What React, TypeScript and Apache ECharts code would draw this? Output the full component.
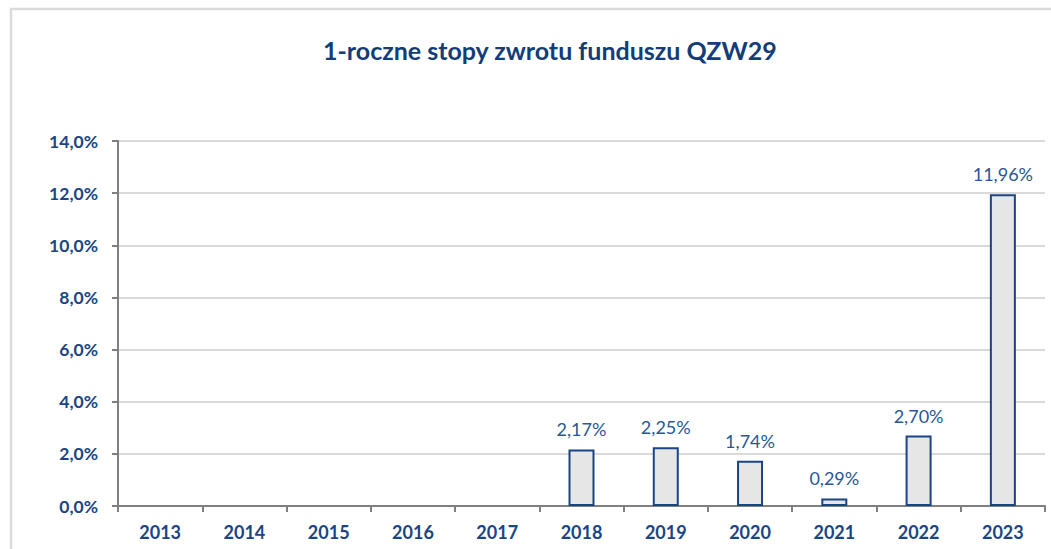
import React, { useEffect, useRef } from "react";
import * as echarts from "echarts";

const title = "1-roczne stopy zwrotu funduszu QZW29";
const years = ["2013", "2014", "2015", "2016", "2017", "2018", "2019", "2020", "2021", "2022", "2023"];
const returns: (number | null)[] = [null, null, null, null, null, 2.17, 2.25, 1.74, 0.29, 2.7, 11.96];
const yMin = 0;
const yMax = 14;
const yStep = 2;

const NAVY = "#1a4584";
const FONT = "Lato, 'DejaVu Sans', sans-serif";

export default function App() {
  const ref = useRef<HTMLDivElement>(null);
  useEffect(() => {
    if (!ref.current) return;
    const chart = echarts.init(ref.current, null, { renderer: "svg" });
    chart.setOption({
      animation: false,
      backgroundColor: "#ffffff",
      title: {
        text: title,
        left: 318,
        top: 32,
        textStyle: { color: "#133d78", fontSize: 25, fontWeight: "bold", fontFamily: FONT },
      },
      graphic: [
        {
          type: "rect",
          shape: { x: 11, y: 9, width: 1100, height: 600 },
          style: { fill: "none", stroke: "#dadada", lineWidth: 2.5 },
          silent: true,
          z: -1,
        },
      ],
      grid: { left: 118, right: 6, top: 141, bottom: 43, containLabel: false },
      xAxis: {
        type: "category",
        data: years,
        axisLine: { lineStyle: { color: "#808080", width: 2 } },
        axisTick: { show: true, length: 6, lineStyle: { color: "#808080", width: 2 } },
        axisLabel: { color: NAVY, fontSize: 18, fontWeight: "bold", fontFamily: FONT, margin: 17 },
      },
      yAxis: {
        type: "value",
        min: yMin,
        max: yMax,
        interval: yStep,
        axisLine: { show: true, lineStyle: { color: "#808080", width: 2 } },
        axisTick: { show: true, length: 6, lineStyle: { color: "#808080", width: 2 } },
        splitLine: { lineStyle: { color: "#d9d9d9", width: 2 } },
        axisLabel: {
          color: NAVY,
          fontSize: 17.5,
          fontWeight: "bold",
          fontFamily: FONT,
          margin: 20,
          formatter: (v: number) => v.toFixed(1).replace(".", ",") + "%",
        },
      },
      series: [
        {
          type: "bar",
          data: returns,
          barWidth: 26,
          itemStyle: { color: "#e6e6e6", borderColor: "#1a4584", borderWidth: 2 },
          label: {
            show: true,
            position: "top",
            distance: 11,
            color: "#2a5796",
            fontSize: 18,
            fontFamily: FONT,
            formatter: (p: any) => (p.value == null ? "" : Number(p.value).toFixed(2).replace(".", ",") + "%"),
          },
        },
      ],
    });
    return () => chart.dispose();
  }, []);
  return <div ref={ref} style={{ position: "fixed", left: 0, top: 0, width: 1051, height: 549 }} />;
}
